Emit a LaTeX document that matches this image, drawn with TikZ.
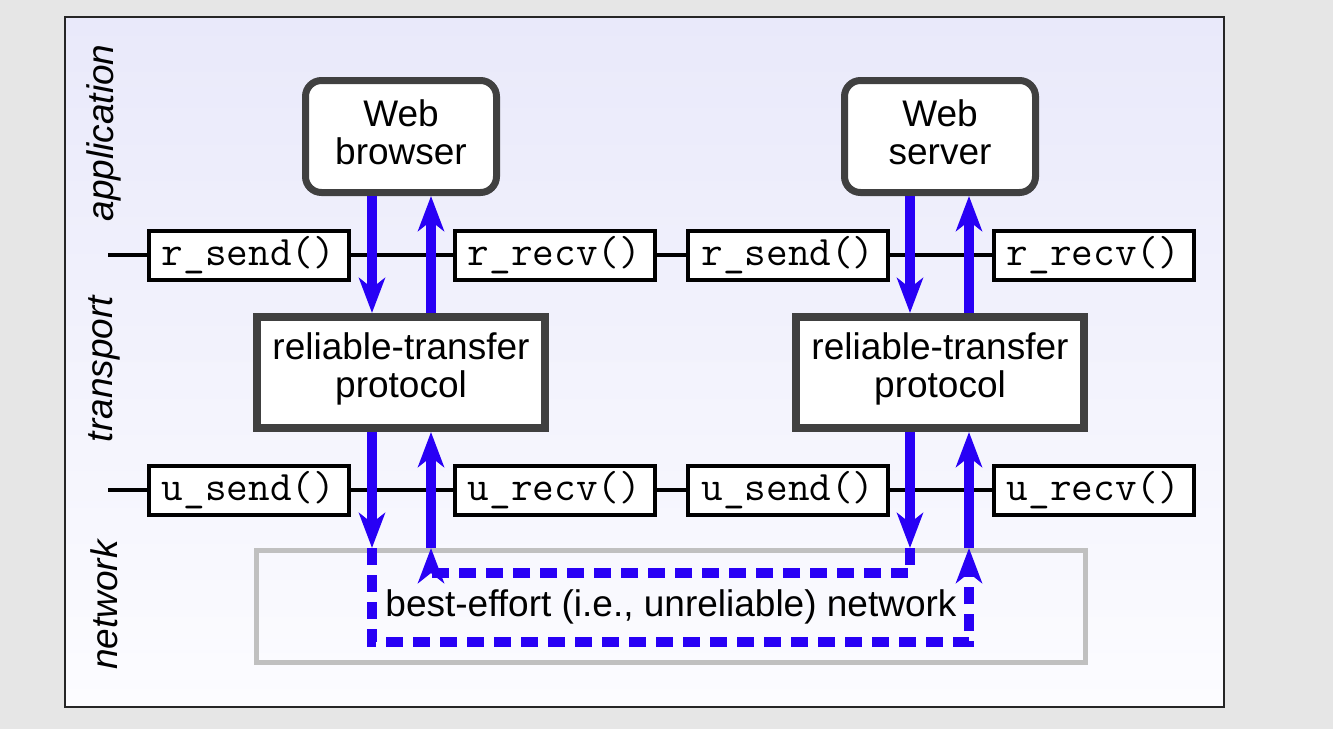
\documentclass[tikz,border=0pt]{standalone}
\usepackage{fontspec}
\setmainfont{Liberation Sans}
\usetikzlibrary{arrows.meta,calc}
\definecolor{pageBG}{RGB}{230,230,230}
\definecolor{panelTop}{RGB}{233,233,250}
\definecolor{panelBot}{RGB}{252,252,255}
\definecolor{boxGray}{RGB}{64,64,64}
\definecolor{netGray}{RGB}{192,192,192}
\definecolor{flowBlue}{RGB}{40,0,245}
\pgfdeclarelayer{bglayer}
\pgfdeclarelayer{linelayer}
\pgfsetlayers{bglayer,linelayer,main}
\begin{document}
\begin{tikzpicture}[x=0.5pt,y=-0.5pt,
  txt/.style={font=\fontsize{18.5}{19}\selectfont},
  apptext/.style={txt,align=center,inner sep=0pt,yshift=2.2pt},
  prototext/.style={txt,align=center,inner sep=0pt,yshift=1.6pt},
  appbox/.style={draw=boxGray,fill=white,line width=3.5pt,rounded corners=8pt,
    minimum width=95.5pt,minimum height=56pt,inner sep=0pt},
  protobox/.style={draw=boxGray,fill=white,line width=4pt,
    minimum width=144pt,minimum height=55.5pt,inner sep=0pt},
  apibox/.style={font=\ttfamily\fontsize{21}{22}\selectfont,
    draw=black,fill=white,line width=2pt,
    minimum width=100pt,minimum height=24.5pt,inner sep=0pt},
  netbox/.style={txt,draw=netGray,line width=2.5pt,
    minimum width=414.5pt,minimum height=56pt,inner sep=0pt},
  layer/.style={font=\itshape\fontsize{18.5}{19}\selectfont,rotate=90},
  apiline/.style={draw=black,line width=1.75pt},
  flow/.style={draw=flowBlue,line width=5pt,-{Stealth[length=17.5pt,width=13pt,inset=5pt]}},
  dflow/.style={flow,dash pattern=on 8.5pt off 5pt,line join=miter}
]
% page and panel
\begin{pgfonlayer}{bglayer}
\fill[pageBG] (0,0) rectangle (1333,729);
\shade[top color=panelTop,bottom color=panelBot] (65,17) rectangle (1224,707);
\draw[black!85,line width=0.6pt] (65,17) rectangle (1224,707);
\end{pgfonlayer}

% layer labels
\node[layer] (lapp) at (104,133) {application};
\node[layer] (ltra) at (104,369) {transport};
\node[layer] (lnet) at (104,605) {network};

% API boxes
\node[apibox] (rs1) at (248.5,255) {r\_send()};
\node[apibox] (rr1) at (554.5,255) {r\_recv()};
\node[apibox] (rs2) at (788,255) {r\_send()};
\node[apibox] (rr2) at (1093.5,255) {r\_recv()};
\node[apibox] (us1) at (248.5,490) {u\_send()};
\node[apibox] (ur1) at (554.5,490) {u\_recv()};
\node[apibox] (us2) at (788,490) {u\_send()};
\node[apibox] (ur2) at (1093.5,490) {u\_recv()};

% horizontal API lines, behind the boxes
\coordinate (rl) at (108,255);
\coordinate (ul) at (108,490);
\begin{pgfonlayer}{linelayer}
\draw[apiline] (rl) -- (rr2.center);
\draw[apiline] (ul) -- (ur2.center);
\end{pgfonlayer}

% app and protocol boxes
\node[appbox,label={[apptext]center:Web\\browser}] (browser) at (401,136.5) {};
\node[appbox,label={[apptext]center:Web\\server}] (server) at (940,136.5) {};
\node[protobox,label={[prototext]center:reliable-transfer\\protocol}] (rtp1) at (401,372.5) {};
\node[protobox,label={[prototext]center:reliable-transfer\\protocol}] (rtp2) at (940,372.5) {};
\node[netbox] (net) at (671,606.5) {best-effort (i.e., unreliable) network};

% arrow x positions
\coordinate (xa) at (372,0);
\coordinate (xb) at (431,0);
\coordinate (xc) at (910,0);
\coordinate (xd) at (969,0);
\coordinate (ylow) at (0,642);
\coordinate (yhigh) at (0,573);

% solid flows, top
\draw[flow] (browser.south -| xa) -- (rtp1.north -| xa);
\draw[flow] (rtp1.north -| xb) -- (browser.south -| xb);
\draw[flow] (server.south -| xc) -- (rtp2.north -| xc);
\draw[flow] (rtp2.north -| xd) -- (server.south -| xd);

% solid flows, bottom
\draw[flow] (rtp1.south -| xa) -- (net.north -| xa);
\draw[flow] (net.north -| xb) -- (rtp1.south -| xb);
\draw[flow] (rtp2.south -| xc) -- (net.north -| xc);
\draw[flow] (net.north -| xd) -- (rtp2.south -| xd);

% dashed flows through the network
\draw[dflow] (net.north -| xa) -- (xa |- ylow) -- (xd |- ylow) -- (net.north -| xd);
\draw[dflow] (net.north -| xc) -- (xc |- yhigh) -- (xb |- yhigh) -- (net.north -| xb);
\end{tikzpicture}
\end{document}
